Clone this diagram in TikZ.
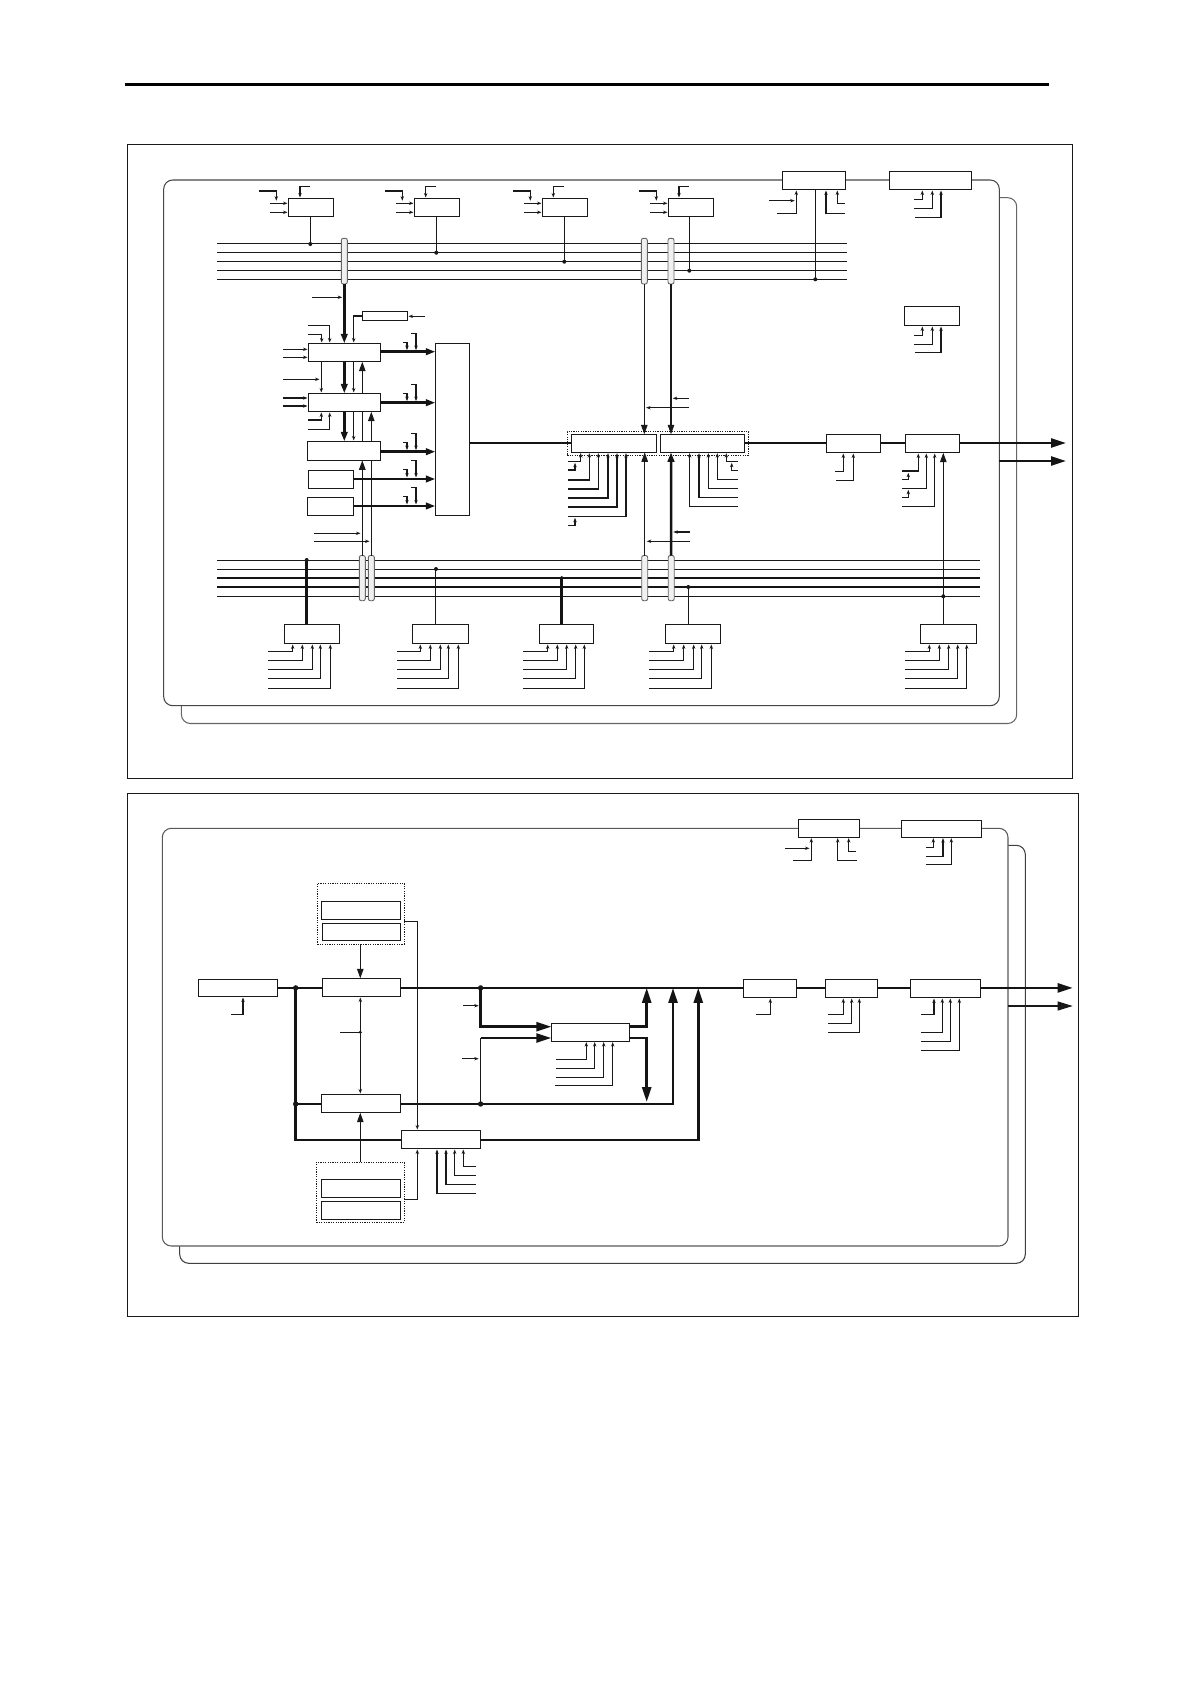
\documentclass[tikz,border=0pt]{standalone}
\usetikzlibrary{arrows.meta,calc}
\newcount\fc
\newcommand\nf[2]{\global\advance\fc by 1\relax\coordinate (fr\the\fc) at (#1,#2);}
\tikzset{
  x=1pt,y=-1pt,
  ln/.style={line width=1.05pt,draw=black!90},
  med/.style={line width=1.4pt,draw=black!90},
  thk/.style={line width=2.5pt,draw=black!92},
  tipS/.style={-{Stealth[length=4.5pt,width=3.4pt]},shorten >=0.8pt},
  tipM/.style={-{Triangle[length=9.5pt,width=6.5pt]}},
  tipL/.style={-{Triangle[length=15pt,width=9pt]}},
  boxn/.style={draw=black!90,line width=1.05pt,fill=white,inner sep=0pt,outer sep=0pt},
  grp/.style={draw=black!90,line width=0.95pt,dash pattern=on 1.2pt off 1.2pt,inner sep=0pt,outer sep=0pt},
  pill/.style={draw=black!60,line width=0.9pt,fill=black!6,rounded corners=2pt,inner sep=0pt,outer sep=0pt},
  plane/.style={rounded corners=9pt,fill=white,line width=1.05pt},
  frm/.style={draw=black!90,line width=1pt},
}
% box node by its corners
\newcommand\bx[6][boxn]{\node[#1,minimum width={(#4-#2)*1pt},minimum height={(#5-#3)*1pt}] (#6) at ({(#2+#4)/2},{(#3+#5)/2}) {};}
% free end at (xs,y), run to x, then up into the bottom of a box
\newcommand\upin[4]{\nf{#4}{#3}\draw[ln,tipS] (fr\the\fc) -| (#2,0 |- #1.south);}
% free end at (xs,y), run to x, then down into the top of a box
\newcommand\dnin[4]{\nf{#4}{#3}\draw[ln,tipS] (fr\the\fc) -| (#2,0 |- #1.north);}
% straight arrow from a free end into the left of a box
\newcommand\hin[3]{\nf{#2}{#3}\draw[ln,tipS] (fr\the\fc) -- (#1.west |- fr\the\fc);}
% arrow with an elbow that ends on another line
\newcommand\el[4]{\nf{#1}{#2}\nf{#3}{#4}\draw[ln,tipS] (fr\the\numexpr\fc-1\relax) -| (fr\the\fc);}
% straight small arrow between free points
\newcommand\st[4]{\nf{#1}{#2}\nf{#3}{#4}\draw[ln,tipS] (fr\the\numexpr\fc-1\relax) -- (fr\the\fc);}
% plain line between free points
\newcommand\pl[5][ln]{\nf{#2}{#3}\nf{#4}{#5}\draw[#1] (fr\the\numexpr\fc-1\relax) -- (fr\the\fc);}
% junction dot
\newcommand\dt[3][2pt]{\nf{#2}{#3}\fill[black!90] (fr\the\fc) circle (#1);}
% the five bottom inputs of a lower box
\newcommand\five[7]{\upin{#1}{#3}{651.3}{#2}\upin{#1}{#4}{660.3}{#2}\upin{#1}{#5}{669.3}{#2}\upin{#1}{#6}{678.3}{#2}\upin{#1}{#7}{688.3}{#2}}
% the four inputs of an upper box
\newcommand\four[4]{\el{#2-29.5}{191}{#2-12}{201.5}\hin{#1}{#2-18.3}{203.3}\hin{#1}{#2-18.3}{212.3}\dnin{#1}{#3}{186.7}{#4}}
% two elbow inputs falling on a thick line
\newcommand\twofall[1]{\el{403}{#1-9.4}{407}{#1-0.8}\el{411.3}{#1-18.4}{416}{#1-0.8}}
\begin{document}
\begin{tikzpicture}
\useasboundingbox (0,0) rectangle (1190,1684);
\fill[white] (0,0) rectangle (1190,1684);
% page rule
\pl[line width=3.6pt,draw=black]{124.5}{84.3}{1048.5}{84.3}

%=================== upper panel
\bx[frm]{127.3}{144.3}{1072.7}{778}{frameA}
\draw[plane,draw=black!60] (181.4,197.7) rectangle (1016.7,723.5);
\draw[plane,draw=black!72] (163.7,180) rectangle (999.3,705.7);

% buses
\foreach \yy in {243.3,252.3,261.3,270.3,279.3}{\pl{217}{\yy}{847.3}{\yy}}
\pl{217}{560.3}{980}{560.3}
\pl{217}{569.3}{980}{569.3}
\pl[thk]{217}{578}{980}{578}
\pl[thk]{217}{587}{980}{587}
\pl{217}{596.3}{980}{596.3}

% bus taps (pills)
\bx[pill]{341.3}{238.3}{347.3}{284}{pA}
\bx[pill]{641.3}{238.3}{647.3}{284}{pB}
\bx[pill]{668}{238.3}{674}{284}{pC}
\bx[pill]{359.3}{555.5}{365.3}{600.7}{pD}
\bx[pill]{368.3}{555.5}{374.3}{600.7}{pE}
\bx[pill]{641.7}{555.5}{647.7}{600.7}{pF}
\bx[pill]{668.2}{555.5}{674.2}{600.7}{pG}

% boxes upper row
\bx{288.3}{198.3}{333.3}{216.7}{Ta}
\bx{414.3}{198.3}{459.7}{216.7}{Tb}
\bx{542.3}{198.3}{587.7}{216.7}{Tc}
\bx{668.3}{198.3}{713.7}{216.7}{Td}
\bx{782.3}{171.3}{845.7}{189.7}{Te}
\bx{889.3}{171.3}{971.7}{189.7}{Tf}
\bx{904.3}{306.3}{959.7}{325.7}{Rg}
% left stack
\bx{362.3}{311.3}{407.7}{320.7}{Sm}
\bx{308.3}{343.3}{380.3}{361.7}{Ma}
\bx{308.3}{393.3}{380.3}{411.7}{Mb}
\bx{307.3}{441.3}{380.3}{460.3}{Mc}
\bx{308.3}{470.3}{353.7}{488.7}{Md}
\bx{307.3}{497.3}{353.7}{515.7}{Me}
\bx{435.3}{343.3}{469.7}{515.7}{Mix}
% centre
\bx[grp]{567.3}{431.7}{748.7}{455.3}{Cg}
\bx{571.3}{434.3}{656.7}{452.3}{Ca}
\bx{660.3}{434.3}{744.7}{452.3}{Cb}
\bx{826.3}{434.3}{880.7}{452.7}{Da}
\bx{905.3}{434.3}{959.7}{452.7}{Db}
% lower row
\bx{284.3}{624.3}{339.3}{643.7}{Ba}
\bx{412.3}{624.3}{468.3}{643.7}{Bb}
\bx{539.3}{624.3}{593.3}{643.7}{Bc}
\bx{665.3}{624.3}{720.7}{643.7}{Bd}
\bx{920.3}{624.3}{976.7}{643.7}{Be}

% upper row inputs
\four{Ta}{288.3}{300}{309.7}
\four{Tb}{414.3}{425.7}{435.7}
\four{Tc}{542.3}{553.3}{563.7}
\four{Td}{668.3}{679}{689}
% upper row drops
\draw[ln] (310.3,0 |- Ta.south) -- (310.3,243.3); \dt{310.3}{244}
\draw[ln] (436.3,0 |- Tb.south) -- (436.3,252.3); \dt{436.3}{252.7}
\draw[ln] (564.3,0 |- Tc.south) -- (564.3,261.3); \dt{564.3}{261.7}
\draw[ln] (689.3,0 |- Td.south) -- (689.3,270.3); \dt{689.3}{270.7}
\draw[ln] (815.3,0 |- Te.south) -- (815.3,279.3); \dt{815.3}{279.3}
% Te, Tf, Rg inputs
\upin{Te}{796.3}{213.3}{777}
\st{769}{200.7}{795.5}{200.7}
\upin{Te}{826}{213.3}{845}
\upin{Te}{837.3}{203.3}{845}
\upin{Tf}{922.3}{199.3}{914}
\upin{Tf}{932.3}{208.3}{914}
\upin{Tf}{941}{217.3}{915}
\upin{Rg}{922.3}{335.3}{914}
\upin{Rg}{932.3}{344.3}{914}
\upin{Rg}{941}{352.3}{915}

% left stack connections
\draw[thk,tipM] (pA.south) -- (344.3,0 |- Ma.north);
\st{312}{297.3}{343}{297.3}
\nf{425}{316.3}\draw[ln,tipS] (fr\the\fc) -- (Sm.east |- fr\the\fc);
\draw[ln,tipS] (Sm.west) -| (353.7,0 |- Ma.north);
\dnin{Ma}{329.7}{325.3}{308}
\dnin{Ma}{321.7}{334.3}{308}
\hin{Ma}{283}{349.3}
\hin{Ma}{283}{357.3}
\draw[ln,tipS] (321.3,0 |- Ma.south) -- (321.3,0 |- Mb.north);
\st{283}{379.3}{320.3}{379.3}
\draw[thk,tipM] (344.3,0 |- Ma.south) -- (344.3,0 |- Mb.north);
\draw[ln,tipS] (353.7,0 |- Ma.south) -- (353.7,0 |- Mb.north);
\draw[ln,tipM] (362.3,0 |- Mb.north) -- (362.3,0 |- Ma.south);
\hin{Mb}{283}{398}
\hin{Mb}{283}{406}
\upin{Mb}{321.3}{420}{308}
\upin{Mb}{329.7}{429.3}{308}
\draw[thk,tipM] (344.3,0 |- Mb.south) -- (344.3,0 |- Mc.north);
\draw[ln,tipS] (353.7,0 |- Mb.south) -- (353.7,0 |- Mc.north);
\draw[ln] (362.3,0 |- Mc.north) -- (362.3,0 |- Mb.south);
\draw[ln,tipM] (pD.north) -- (362.3,0 |- Mc.south);
\draw[ln] (pE.north) -- (371.3,0 |- Mc.south);
\draw[ln,tipM] (371.3,0 |- Mc.north) -- (371.3,0 |- Mb.south);
\st{314}{533.3}{361.3}{533.3}
\st{314}{541.3}{370.3}{541.3}
% mixer inputs
\draw[thk,tipM] (Ma.east |- 0,351.7) -- (Mix.west |- 0,351.7);
\draw[thk,tipM] (Mb.east |- 0,402.7) -- (Mix.west |- 0,402.7);
\draw[thk,tipM] (Mc.east |- 0,451.7) -- (Mix.west |- 0,451.7);
\draw[thk,tipM] (Md.east |- 0,479) -- (Mix.west |- 0,479);
\draw[thk,tipM] (Me.east |- 0,506) -- (Mix.west |- 0,506);
\twofall{351.7}
\twofall{402.7}
\twofall{451.7}
\twofall{479}
\twofall{506}
% main line
\draw[thk] (Mix.east |- 0,443) -- (Ca.west |- 0,443);
\draw[thk] (Cb.east |- 0,443) -- (Da.west |- 0,443);
\draw[thk] (Da.east |- 0,443) -- (Db.west |- 0,443);
\draw[thk,tipL] (Db.east |- 0,443) -- (1066,443);
\nf{999.3}{461}\draw[thk,tipL] (fr\the\fc) -- (1066,461);
% centre connections
\draw[ln,tipM] (pB.south) -- (644.3,0 |- Ca.north);
\draw[ln,tipM] (pC.south) -- (671,0 |- Cb.north);
\st{689}{398.3}{672}{398.3}
\st{689}{407.7}{645.3}{407.7}
\draw[ln,tipM] (pF.north) -- (644.7,0 |- Ca.south);
\draw[thk,tipM] (pG.north) -- (671,0 |- Cb.south);
\st{690}{532}{672.5}{532}
\st{690}{541.3}{646}{541.3}
% centre inputs
\upin{Ca}{580.7}{461.3}{568.3}
\el{568.3}{470}{575}{462}
\upin{Ca}{589.3}{480}{568.3}
\upin{Ca}{598.3}{489}{568.3}
\upin{Ca}{608}{498}{568.3}
\upin{Ca}{617}{507}{568.3}
\upin{Ca}{626}{516.3}{568.3}
\el{568.3}{525.3}{575}{517}
\upin{Cb}{689.7}{506.3}{738}
\upin{Cb}{699}{497.3}{738}
\upin{Cb}{708.3}{488.3}{738}
\upin{Cb}{717.3}{479.3}{738}
\upin{Cb}{726.3}{461.3}{738}
\el{738}{470.3}{731.7}{462}
% D inputs
\upin{Da}{843.3}{471.3}{835}
\upin{Da}{853.3}{480.3}{836}
\upin{Db}{918.3}{471}{902}
\upin{Db}{926.3}{488.3}{902}
\upin{Db}{934.7}{506.3}{902}
\el{902}{479.3}{908.3}{472}
\el{902}{497.3}{908.3}{489}
\draw[ln,tipM] (943.3,0 |- Be.north) -- (943.3,0 |- Db.south);
\dt{943.3}{596.3}
% lower row
\draw[thk] (306.7,0 |- Ba.north) -- (306.7,560.3); \dt{306.7}{560}
\draw[med] (435.7,0 |- Bb.north) -- (435.7,569.3); \dt{436}{569}
\draw[thk] (561.7,0 |- Bc.north) -- (561.7,578); \dt[1.7pt]{561.7}{577.5}
\draw[ln] (688.3,0 |- Bd.north) -- (688.3,587); \dt{688.3}{587}
\five{Ba}{268.3}{292.7}{302.3}{312.3}{320.3}{330.3}
\five{Bb}{397}{420.3}{430.3}{440.3}{448.3}{458.3}
\five{Bc}{523}{547.7}{557.3}{566.7}{575.7}{584.3}
\five{Bd}{649.3}{673.7}{683.7}{693.7}{701.7}{711.3}
\five{Be}{905}{929.3}{939.3}{948.7}{957.7}{966.7}

%=================== lower panel
\bx[frm]{127.3}{793.7}{1078.3}{1316.3}{frameB}
\draw[plane,draw=black!75] (179.7,845.3) rectangle (1025.3,1263.3);
\draw[plane,draw=black!65] (162.3,828.3) rectangle (1008,1246);

\bx{798.3}{819.3}{859.7}{837.3}{Qa}
\bx{901.3}{820.3}{981.7}{837.3}{Qb}
\bx[grp]{317.3}{883.3}{404.3}{944}{Ga}
\bx{321.3}{901.3}{400.7}{919.7}{Gaa}
\bx{322.3}{923.3}{400.7}{940.7}{Gab}
\bx{322.3}{978.3}{400.7}{996.7}{U}
\bx{198.3}{979.3}{277.7}{996.7}{Vb}
\bx{321.3}{1094.3}{400.7}{1112.7}{W}
\bx{401.3}{1130.3}{480.7}{1148.7}{Xb}
\bx[grp]{316.3}{1162.3}{404.3}{1222}{Gb}
\bx{321.3}{1179.3}{400.7}{1197.3}{Gba}
\bx{321.3}{1201.3}{400.7}{1219.3}{Gbb}
\bx{551.3}{1023.3}{629.7}{1041.3}{Yb}
\bx{743.3}{979.3}{796.7}{997.7}{Za}
\bx{825.3}{979.3}{877.7}{997.7}{Zb}
\bx{910.3}{979.3}{980.7}{997.7}{Zc}

\upin{Qa}{811.3}{860.3}{793}
\st{785}{848.3}{810.3}{848.3}
\upin{Qa}{837.7}{860.3}{856.7}
\upin{Qa}{848.7}{851.7}{855.7}
\upin{Qb}{933.3}{847.3}{926}
\upin{Qb}{943}{856.3}{926}
\upin{Qb}{951.3}{864.3}{926}

\upin{Vb}{243}{1014.3}{231}
% main line
\coordinate (jA) at (295.7,987.9);
\coordinate (jB) at (295.7,1104);
\coordinate (jC) at (480.6,987.9);
\coordinate (jD) at (480.6,1104);
\draw[thk] (Vb.east |- jA) -- (U.west |- jA);
\draw[thk] (U.east |- jA) -- (Za.west |- jA);
\draw[thk] (Za.east |- jA) -- (Zb.west |- jA);
\draw[thk] (Zb.east |- jA) -- (Zc.west |- jA);
\draw[thk,tipL] (Zc.east |- jA) -- (1072.7,987.9);
\nf{1008}{1006}\draw[ln,tipL] (fr\the\fc) -- (1072.7,1006);
% left trunk
\draw[thk] (jA) -- (295.7,1140) -- (Xb.west |- 0,1140);
\draw[thk] (jB) -- (W.west |- jB);
\fill[black!90] (jA) circle (2.7pt);
\fill[black!90] (jB) circle (2.7pt);
% returns to main line
\coordinate (mA) at (646.7,987.9);
\coordinate (mB) at (673,987.9);
\coordinate (mC) at (698.3,987.9);
\draw[thk,tipL] (W.east |- jD) -| (mB);
\draw[thk,tipL] (Xb.east |- 0,1140) -| (mC);
\fill[black!90] (jC) circle (2.7pt);
\fill[black!90] (jD) circle (2.7pt);
% into and out of Yb
\draw[thk,tipL] (jC) |- (Yb.west |- 0,1026.7);
\draw[ln] (jD) -- (480.6,1038);
\draw[thk,tipL] (480.6,1038) -- (Yb.west |- 0,1038);
\draw[thk,tipL] (Yb.east |- 0,1026.7) -| (mA);
\draw[thk,tipL] (Yb.east |- 0,1038) -| (646.7,1102);
\st{463}{1005.7}{479.5}{1005.7}
\st{462}{1058.7}{479.5}{1058.7}
\upin{Yb}{586.3}{1059.3}{556}
\upin{Yb}{594.7}{1068.3}{556}
\upin{Yb}{603.7}{1077.3}{556}
\upin{Yb}{612.7}{1085.3}{555}
% U-W link
\coordinate (jE) at (360.3,1032.3);
\draw[ln,tipS] (jE) -- (360.3,0 |- U.south);
\draw[ln,tipS] (jE) -- (360.3,0 |- W.north);
\nf{340}{1032.3}\draw[ln] (fr\the\fc) -- (jE);
\fill[black!90] (jE) circle (1.7pt);
% memory groups
\draw[ln,tipM] (360.3,0 |- Ga.south) -- (360.3,0 |- U.north);
\draw[ln,tipM] (360.3,0 |- Gb.north) -- (360.3,0 |- W.south);
\draw[ln,tipS] (Ga.east |- 0,921.7) -| (417.3,0 |- Xb.north);
\draw[ln,tipS] (Gb.east |- 0,1199.3) -| (417.3,0 |- Xb.south);
\upin{Xb}{437}{1193.3}{475.7}
\upin{Xb}{446}{1184.3}{475.7}
\upin{Xb}{454.7}{1175.3}{475.7}
\upin{Xb}{463.3}{1166.3}{475.7}
% Z inputs
\upin{Za}{770.3}{1014.3}{756}
\upin{Zb}{843.3}{1014.3}{828.3}
\upin{Zb}{851.7}{1023.3}{828.3}
\upin{Zb}{859.3}{1032.3}{828.3}
\upin{Zc}{934}{1014.3}{921}
\upin{Zc}{942.3}{1032.3}{921}
\upin{Zc}{950.3}{1041.3}{921}
\upin{Zc}{959.3}{1050.3}{921}
\end{tikzpicture}
\end{document}
